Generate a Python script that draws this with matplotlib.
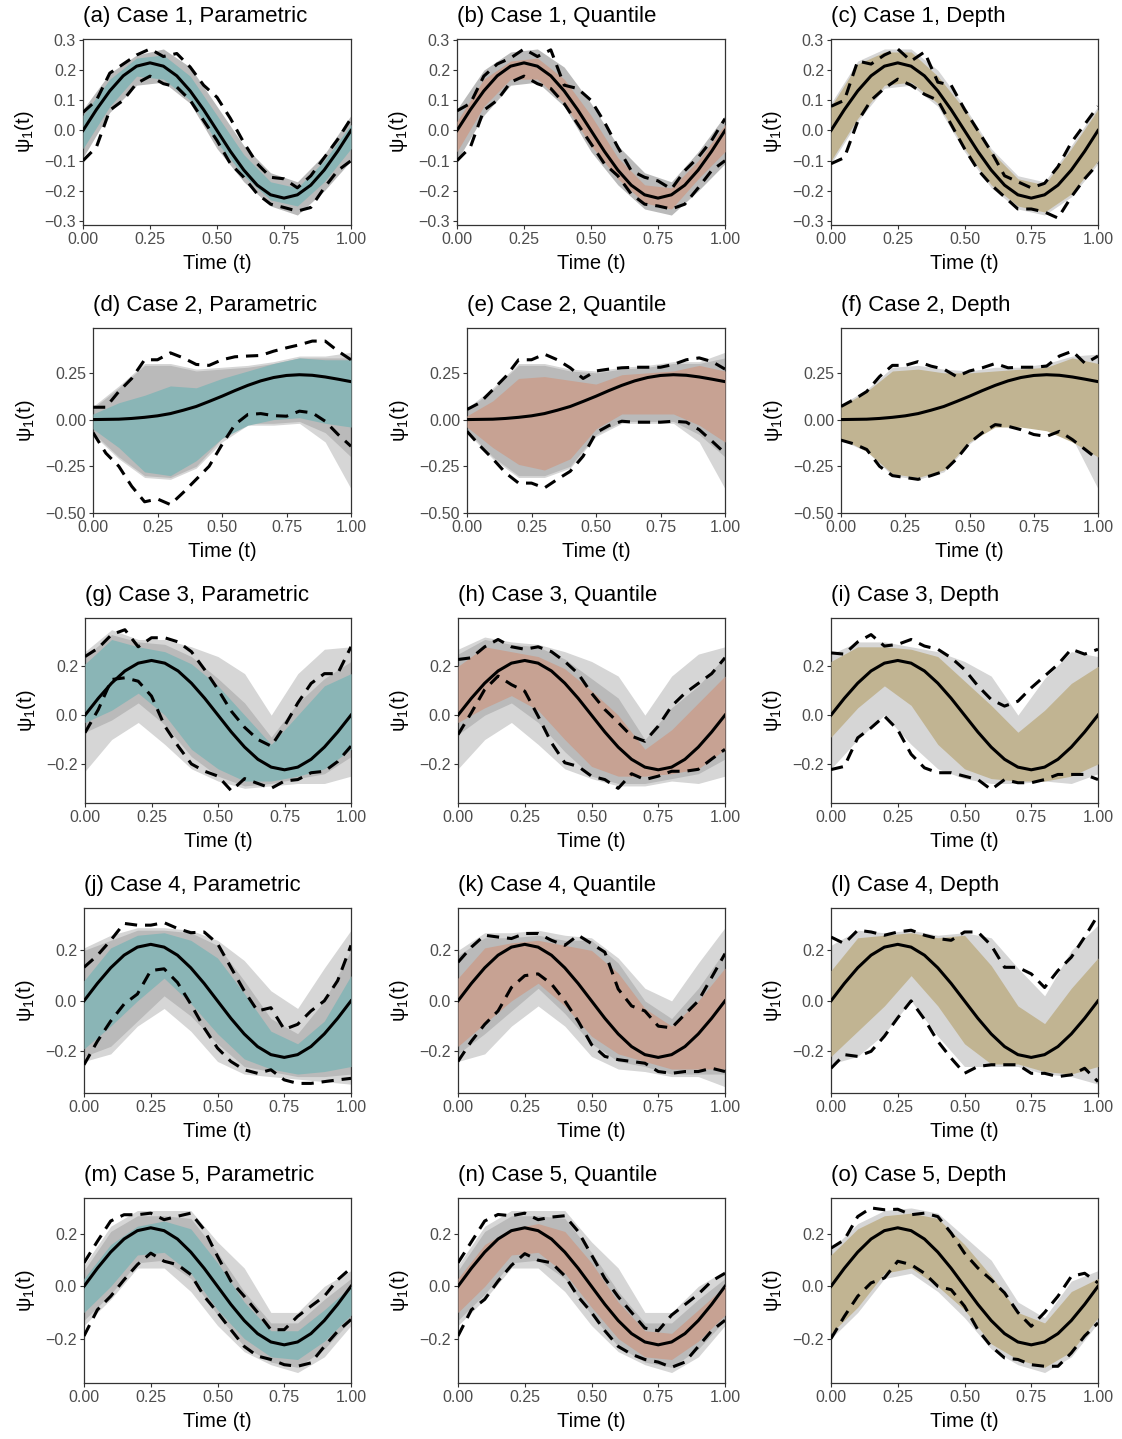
import matplotlib
matplotlib.use("Agg")
import matplotlib.pyplot as plt

plt.rcParams["font.family"] = ["Liberation Sans", "DejaVu Sans"]
plt.rcParams["mathtext.fontset"] = "custom"
plt.rcParams["mathtext.rm"] = "Liberation Sans"
plt.rcParams["mathtext.it"] = "Liberation Sans"

# time grids
T21 = [0.00, 0.05, 0.10, 0.15, 0.20, 0.25, 0.30, 0.35, 0.40, 0.45, 0.50,
       0.55, 0.60, 0.65, 0.70, 0.75, 0.80, 0.85, 0.90, 0.95, 1.00]
T11 = [0.0, 0.1, 0.2, 0.3, 0.4, 0.5, 0.6, 0.7, 0.8, 0.9, 1.0]

# true eigenfunctions (read at T21)
TRUE_SINE = [0.000, 0.069, 0.131, 0.181, 0.213, 0.224, 0.213, 0.181, 0.131, 0.069, 0.000,
             -0.069, -0.131, -0.181, -0.213, -0.224, -0.213, -0.181, -0.131, -0.069, 0.000]
TRUE_CASE2 = [0.000, 0.001, 0.002, 0.006, 0.012, 0.020, 0.032, 0.050, 0.070, 0.097, 0.125,
              0.155, 0.183, 0.207, 0.225, 0.236, 0.240, 0.237, 0.228, 0.216, 0.203]

CASES = [1, 2, 3, 4, 5]
METHODS = ["Parametric", "Quantile", "Depth"]
LETTERS = "abcdefghijklmno"

# dashed simultaneous band limits (T21)
DASH_UP = {
    "a": [0.06, 0.10, 0.19, 0.22, 0.25, 0.27, 0.245, 0.255, 0.21, 0.15, 0.11, 0.04, -0.04, -0.11, -0.155, -0.16, -0.19, -0.15, -0.09, -0.03, 0.04],
    "b": [0.065, 0.09, 0.18, 0.22, 0.24, 0.27, 0.245, 0.267, 0.15, 0.139, 0.10, 0.028, -0.055, -0.133, -0.155, -0.167, -0.194, -0.133, -0.089, -0.033, 0.039],
    "c": [0.08, 0.10, 0.23, 0.22, 0.25, 0.27, 0.23, 0.26, 0.16, 0.15, 0.07, 0.0, -0.07, -0.15, -0.17, -0.19, -0.175, -0.12, -0.04, 0.02, 0.08],
    "d": [0.066, 0.066, 0.15, 0.22, 0.32, 0.32, 0.357, 0.33, 0.295, 0.29, 0.32, 0.336, 0.34, 0.343, 0.366, 0.384, 0.40, 0.42, 0.42, 0.366, 0.32],
    "e": [0.054, 0.09, 0.16, 0.23, 0.32, 0.32, 0.35, 0.32, 0.277, 0.22, 0.26, 0.27, 0.277, 0.28, 0.28, 0.28, 0.295, 0.32, 0.33, 0.31, 0.27],
    "f": [0.07, 0.107, 0.15, 0.23, 0.29, 0.29, 0.31, 0.286, 0.27, 0.23, 0.26, 0.277, 0.30, 0.277, 0.28, 0.28, 0.286, 0.34, 0.366, 0.30, 0.34],
    "g": [0.24, 0.275, 0.33, 0.35, 0.28, 0.317, 0.317, 0.30, 0.26, 0.186, 0.105, 0.016, -0.05, -0.10, -0.127, -0.045, 0.05, 0.13, 0.17, 0.17, 0.28],
    "h": [0.228, 0.235, 0.28, 0.31, 0.28, 0.27, 0.28, 0.26, 0.22, 0.17, 0.09, 0.023, -0.03, -0.086, -0.107, -0.045, 0.037, 0.09, 0.13, 0.17, 0.235],
    "i": [0.255, 0.25, 0.30, 0.33, 0.283, 0.29, 0.31, 0.283, 0.27, 0.235, 0.187, 0.12, 0.064, 0.037, 0.057, 0.112, 0.16, 0.208, 0.27, 0.25, 0.27],
    "j": [0.133, 0.18, 0.24, 0.307, 0.30, 0.30, 0.31, 0.287, 0.27, 0.273, 0.227, 0.133, 0.04, -0.04, -0.027, -0.113, -0.093, -0.04, 0.0, 0.08, 0.22],
    "k": [0.153, 0.213, 0.26, 0.253, 0.247, 0.267, 0.267, 0.24, 0.22, 0.26, 0.227, 0.193, 0.047, -0.02, -0.04, -0.10, -0.107, -0.053, 0.0, 0.093, 0.187],
    "l": [0.253, 0.227, 0.28, 0.273, 0.26, 0.273, 0.28, 0.26, 0.247, 0.24, 0.273, 0.273, 0.22, 0.133, 0.133, 0.107, 0.053, 0.12, 0.173, 0.253, 0.34],
    "m": [0.09, 0.172, 0.25, 0.274, 0.274, 0.28, 0.255, 0.268, 0.28, 0.217, 0.115, 0.02, -0.038, -0.10, -0.166, -0.166, -0.115, -0.076, -0.038, 0.025, 0.07],
    "n": [0.09, 0.17, 0.25, 0.275, 0.27, 0.28, 0.255, 0.265, 0.27, 0.21, 0.12, 0.03, -0.04, -0.10, -0.16, -0.17, -0.11, -0.07, -0.03, 0.02, 0.05],
    "o": [0.146, 0.178, 0.267, 0.30, 0.293, 0.295, 0.274, 0.28, 0.267, 0.204, 0.127, 0.07, 0.025, -0.025, -0.10, -0.153, -0.10, -0.038, 0.038, 0.05, 0.013],
}
DASH_LO = {
    "a": [-0.10, -0.055, 0.067, 0.10, 0.156, 0.18, 0.155, 0.144, 0.10, 0.033, -0.033, -0.11, -0.155, -0.21, -0.244, -0.255, -0.267, -0.255, -0.19, -0.133, -0.10],
    "b": [-0.10, -0.055, 0.067, 0.10, 0.16, 0.18, 0.155, 0.139, 0.089, 0.022, -0.044, -0.11, -0.15, -0.21, -0.244, -0.25, -0.26, -0.244, -0.19, -0.133, -0.10],
    "c": [-0.11, -0.09, 0.03, 0.10, 0.14, 0.17, 0.15, 0.12, 0.10, 0.02, -0.06, -0.13, -0.18, -0.22, -0.26, -0.26, -0.27, -0.29, -0.22, -0.16, -0.11],
    "d": [-0.07, -0.18, -0.25, -0.357, -0.44, -0.425, -0.455, -0.39, -0.32, -0.25, -0.134, -0.027, 0.027, 0.032, 0.021, 0.018, 0.045, 0.036, -0.009, -0.08, -0.143],
    "e": [-0.063, -0.14, -0.21, -0.286, -0.34, -0.34, -0.366, -0.32, -0.277, -0.196, -0.07, -0.032, -0.009, -0.014, -0.014, -0.014, -0.009, -0.014, -0.054, -0.116, -0.18],
    "f": [-0.11, -0.13, -0.16, -0.25, -0.30, -0.31, -0.32, -0.30, -0.277, -0.21, -0.125, -0.07, -0.027, -0.036, -0.054, -0.08, -0.09, -0.063, -0.107, -0.16, -0.214],
    "g": [-0.072, 0.023, 0.146, 0.153, 0.139, 0.078, -0.045, -0.127, -0.20, -0.23, -0.25, -0.31, -0.26, -0.28, -0.30, -0.27, -0.264, -0.236, -0.23, -0.19, -0.127],
    "h": [-0.08, 0.01, 0.105, 0.16, 0.125, 0.098, -0.004, -0.113, -0.195, -0.21, -0.25, -0.264, -0.30, -0.24, -0.264, -0.25, -0.23, -0.23, -0.222, -0.18, -0.14],
    "i": [-0.223, -0.21, -0.093, -0.052, -0.004, -0.06, -0.16, -0.216, -0.236, -0.236, -0.25, -0.264, -0.305, -0.264, -0.277, -0.277, -0.264, -0.243, -0.243, -0.243, -0.264],
    "j": [-0.253, -0.16, -0.08, -0.013, 0.027, 0.12, 0.127, 0.073, -0.013, -0.107, -0.187, -0.24, -0.273, -0.287, -0.273, -0.313, -0.327, -0.327, -0.32, -0.313, -0.307],
    "k": [-0.24, -0.16, -0.093, -0.04, 0.053, 0.10, 0.107, 0.067, 0.0, -0.08, -0.173, -0.22, -0.233, -0.24, -0.247, -0.28, -0.287, -0.28, -0.28, -0.267, -0.28],
    "l": [-0.267, -0.213, -0.22, -0.20, -0.14, -0.067, 0.0, -0.073, -0.16, -0.227, -0.287, -0.26, -0.253, -0.253, -0.253, -0.287, -0.287, -0.30, -0.293, -0.267, -0.32],
    "m": [-0.19, -0.09, -0.038, 0.025, 0.083, 0.127, 0.096, 0.083, 0.045, -0.038, -0.10, -0.166, -0.23, -0.267, -0.28, -0.30, -0.306, -0.293, -0.23, -0.172, -0.127],
    "n": [-0.19, -0.09, -0.05, 0.02, 0.08, 0.125, 0.10, 0.09, 0.04, -0.04, -0.10, -0.17, -0.23, -0.26, -0.28, -0.29, -0.31, -0.29, -0.23, -0.17, -0.13],
    "o": [-0.20, -0.115, -0.038, 0.013, 0.032, 0.096, 0.083, 0.05, 0.0, -0.013, -0.076, -0.166, -0.23, -0.274, -0.28, -0.30, -0.306, -0.306, -0.255, -0.19, -0.14],
}

# coloured pointwise band (T11)
BAND_UP = {
    "a": [0.05, 0.17, 0.24, 0.25, 0.18, 0.05, -0.08, -0.17, -0.19, -0.10, 0.02],
    "b": [0.03, 0.17, 0.23, 0.24, 0.17, 0.05, -0.09, -0.18, -0.19, -0.10, 0.02],
    "c": [0.08, 0.22, 0.26, 0.26, 0.18, 0.07, -0.07, -0.16, -0.18, -0.06, 0.07],
    "d": [0.03, 0.09, 0.13, 0.18, 0.17, 0.22, 0.26, 0.30, 0.33, 0.32, 0.32],
    "e": [0.02, 0.10, 0.22, 0.23, 0.21, 0.19, 0.24, 0.25, 0.26, 0.29, 0.26],
    "f": [0.07, 0.15, 0.26, 0.27, 0.25, 0.25, 0.26, 0.27, 0.28, 0.33, 0.30],
    "g": [0.21, 0.31, 0.28, 0.26, 0.21, 0.12, 0.0, -0.12, 0.0, 0.12, 0.17],
    "h": [0.20, 0.28, 0.26, 0.24, 0.19, 0.10, 0.0, -0.14, -0.06, 0.05, 0.16],
    "i": [0.22, 0.28, 0.28, 0.27, 0.24, 0.14, 0.04, -0.07, 0.02, 0.13, 0.20],
    "j": [0.08, 0.21, 0.26, 0.27, 0.24, 0.17, 0.03, -0.12, -0.17, -0.08, 0.10],
    "k": [0.09, 0.21, 0.23, 0.24, 0.22, 0.20, 0.11, -0.03, -0.10, 0.0, 0.13],
    "l": [0.12, 0.25, 0.26, 0.27, 0.25, 0.26, 0.14, -0.02, -0.09, 0.05, 0.17],
    "m": [0.03, 0.16, 0.23, 0.25, 0.22, 0.09, -0.06, -0.17, -0.17, -0.09, 0.0],
    "n": [0.03, 0.16, 0.22, 0.24, 0.21, 0.09, -0.06, -0.17, -0.18, -0.09, 0.0],
    "o": [0.12, 0.22, 0.27, 0.28, 0.26, 0.16, 0.04, -0.10, -0.14, -0.02, 0.03],
}
BAND_LO = {
    "a": [-0.06, 0.08, 0.18, 0.17, 0.10, -0.04, -0.15, -0.23, -0.25, -0.17, -0.06],
    "b": [-0.07, 0.08, 0.17, 0.17, 0.09, -0.05, -0.16, -0.24, -0.26, -0.16, -0.07],
    "c": [-0.10, 0.04, 0.15, 0.16, 0.09, -0.06, -0.18, -0.25, -0.27, -0.21, -0.10],
    "d": [-0.05, -0.15, -0.28, -0.30, -0.22, -0.10, -0.03, 0.0, 0.01, -0.02, -0.04],
    "e": [-0.04, -0.15, -0.24, -0.27, -0.21, -0.05, 0.03, 0.03, 0.03, -0.03, -0.12],
    "f": [-0.10, -0.17, -0.29, -0.31, -0.27, -0.12, -0.04, -0.04, -0.06, -0.12, -0.20],
    "g": [-0.03, 0.02, 0.09, 0.0, -0.14, -0.22, -0.27, -0.27, -0.25, -0.22, -0.14],
    "h": [-0.03, 0.03, 0.08, 0.02, -0.10, -0.21, -0.25, -0.25, -0.24, -0.22, -0.14],
    "i": [-0.09, 0.03, 0.12, 0.04, -0.12, -0.22, -0.26, -0.27, -0.27, -0.25, -0.20],
    "j": [-0.19, -0.10, 0.0, 0.09, -0.01, -0.13, -0.23, -0.27, -0.29, -0.28, -0.26],
    "k": [-0.18, -0.09, 0.0, 0.07, -0.02, -0.14, -0.21, -0.24, -0.27, -0.27, -0.27],
    "l": [-0.22, -0.12, -0.02, 0.10, -0.02, -0.17, -0.25, -0.25, -0.28, -0.29, -0.26],
    "m": [-0.10, 0.0, 0.12, 0.13, 0.05, -0.09, -0.20, -0.27, -0.28, -0.21, -0.11],
    "n": [-0.10, 0.0, 0.12, 0.13, 0.05, -0.08, -0.20, -0.27, -0.28, -0.21, -0.11],
    "o": [-0.18, -0.08, 0.05, 0.07, 0.0, -0.09, -0.22, -0.28, -0.31, -0.25, -0.12],
}

# dense grey bootstrap curves (T11), None where fully covered by the band
GRAY_UP = {
    "a": [0.07, 0.19, 0.25, 0.27, 0.21, 0.08, -0.05, -0.14, -0.17, -0.08, 0.05],
    "b": [0.07, 0.20, 0.26, 0.27, 0.21, 0.09, -0.05, -0.14, -0.17, -0.07, 0.05],
    "c": None,
    "d": [0.06, 0.17, 0.29, 0.29, 0.26, 0.27, 0.28, 0.30, 0.33, 0.33, 0.33],
    "e": [0.05, 0.16, 0.29, 0.29, 0.26, 0.25, 0.27, 0.28, 0.30, 0.30, 0.33],
    "f": None,
    "g": [0.24, 0.33, 0.30, 0.29, 0.24, 0.15, 0.05, -0.09, 0.05, 0.15, 0.22],
    "h": [0.25, 0.31, 0.29, 0.28, 0.23, 0.15, 0.07, -0.10, 0.03, 0.12, 0.24],
    "i": None,
    "j": [0.20, 0.24, 0.28, 0.28, 0.27, 0.22, 0.08, -0.07, -0.13, 0.0, 0.20],
    "k": [0.18, 0.25, 0.25, 0.26, 0.24, 0.24, 0.15, 0.0, -0.07, 0.05, 0.20],
    "l": None,
    "m": [0.06, 0.21, 0.27, 0.27, 0.26, 0.13, -0.02, -0.14, -0.14, -0.05, 0.03],
    "n": [0.06, 0.21, 0.27, 0.27, 0.26, 0.13, -0.02, -0.14, -0.14, -0.05, 0.03],
    "o": None,
}
GRAY_LO = {
    "a": [-0.09, 0.06, 0.15, 0.16, 0.09, -0.06, -0.17, -0.25, -0.28, -0.20, -0.10],
    "b": [-0.10, 0.05, 0.15, 0.16, 0.08, -0.07, -0.18, -0.26, -0.28, -0.20, -0.11],
    "c": None,
    "d": [-0.07, -0.20, -0.30, -0.31, -0.25, -0.10, -0.02, -0.02, -0.01, -0.07, -0.20],
    "e": [-0.06, -0.20, -0.30, -0.30, -0.25, -0.08, -0.01, -0.01, -0.01, -0.08, -0.20],
    "f": None,
    "g": [-0.07, -0.02, 0.05, -0.04, -0.17, -0.25, -0.29, -0.28, -0.26, -0.24, -0.17],
    "h": [-0.08, 0.0, 0.05, -0.03, -0.15, -0.25, -0.28, -0.28, -0.26, -0.24, -0.18],
    "i": None,
    "j": [-0.22, -0.18, -0.08, 0.02, -0.06, -0.17, -0.26, -0.28, -0.30, -0.30, -0.29],
    "k": [-0.21, -0.13, -0.04, 0.05, -0.05, -0.17, -0.24, -0.26, -0.29, -0.29, -0.29],
    "l": None,
    "m": [-0.13, -0.03, 0.09, 0.10, 0.03, -0.11, -0.23, -0.29, -0.31, -0.24, -0.13],
    "n": [-0.13, -0.03, 0.09, 0.10, 0.03, -0.11, -0.23, -0.29, -0.31, -0.24, -0.13],
    "o": None,
}

# outer light grey curves (T11), None where not visible
HAZE_UP = {
    "a": None,
    "b": None,
    "c": [0.09, 0.23, 0.27, 0.27, 0.20, 0.08, -0.06, -0.15, -0.17, -0.05, 0.08],
    "d": [0.07, 0.18, 0.30, 0.30, 0.27, 0.28, 0.29, 0.31, 0.34, 0.34, 0.36],
    "e": [0.06, 0.17, 0.30, 0.30, 0.27, 0.26, 0.28, 0.29, 0.31, 0.31, 0.36],
    "f": [0.08, 0.16, 0.28, 0.29, 0.27, 0.26, 0.28, 0.28, 0.30, 0.34, 0.35],
    "g": [0.26, 0.35, 0.31, 0.31, 0.28, 0.24, 0.17, 0.0, 0.17, 0.27, 0.28],
    "h": [0.27, 0.32, 0.30, 0.29, 0.26, 0.22, 0.16, 0.0, 0.16, 0.25, 0.28],
    "i": [0.25, 0.30, 0.30, 0.28, 0.26, 0.22, 0.16, 0.0, 0.15, 0.26, 0.24],
    "j": [0.21, 0.26, 0.29, 0.29, 0.28, 0.24, 0.16, 0.04, -0.03, 0.13, 0.28],
    "k": [0.20, 0.27, 0.27, 0.28, 0.26, 0.25, 0.17, 0.05, 0.0, 0.15, 0.29],
    "l": [0.22, 0.28, 0.27, 0.28, 0.26, 0.27, 0.25, 0.13, 0.02, 0.20, 0.30],
    "m": [0.08, 0.23, 0.29, 0.29, 0.29, 0.17, 0.07, -0.10, -0.10, 0.0, 0.06],
    "n": [0.08, 0.23, 0.29, 0.29, 0.29, 0.17, 0.07, -0.10, -0.10, 0.0, 0.06],
    "o": [0.14, 0.24, 0.29, 0.30, 0.28, 0.19, 0.10, -0.06, -0.12, 0.02, 0.06],
}
HAZE_LO = {
    "a": None,
    "b": None,
    "c": [-0.11, 0.03, 0.14, 0.15, 0.08, -0.07, -0.19, -0.26, -0.28, -0.22, -0.11],
    "d": [-0.08, -0.21, -0.31, -0.32, -0.26, -0.12, -0.03, -0.03, -0.02, -0.12, -0.37],
    "e": [-0.07, -0.21, -0.31, -0.31, -0.26, -0.09, -0.02, -0.02, -0.02, -0.12, -0.37],
    "f": [-0.11, -0.17, -0.30, -0.32, -0.28, -0.13, -0.02, -0.02, -0.03, -0.10, -0.37],
    "g": [-0.23, -0.10, -0.03, -0.12, -0.22, -0.27, -0.30, -0.29, -0.28, -0.28, -0.25],
    "h": [-0.22, -0.10, -0.03, -0.12, -0.22, -0.26, -0.29, -0.29, -0.27, -0.28, -0.25],
    "i": [-0.22, -0.10, 0.0, -0.12, -0.22, -0.26, -0.28, -0.28, -0.27, -0.28, -0.24],
    "j": [-0.24, -0.21, -0.10, -0.03, -0.12, -0.24, -0.29, -0.30, -0.31, -0.32, -0.33],
    "k": [-0.24, -0.21, -0.10, -0.02, -0.10, -0.22, -0.27, -0.28, -0.30, -0.30, -0.34],
    "l": [-0.25, -0.22, -0.13, 0.0, -0.14, -0.26, -0.26, -0.26, -0.29, -0.30, -0.33],
    "m": [-0.15, -0.05, 0.07, 0.07, -0.02, -0.15, -0.25, -0.30, -0.33, -0.27, -0.15],
    "n": [-0.15, -0.05, 0.07, 0.07, -0.02, -0.15, -0.25, -0.30, -0.33, -0.27, -0.15],
    "o": [-0.20, -0.10, 0.03, 0.05, -0.02, -0.12, -0.24, -0.30, -0.33, -0.27, -0.14],
}

X_TICKS = [0.0, 0.25, 0.5, 0.75, 1.0]
X_TICK_LABELS = ["0.00", "0.25", "0.50", "0.75", "1.00"]
Y_TICKS = [
    [-0.3, -0.2, -0.1, 0.0, 0.1, 0.2, 0.3],
    [-0.5, -0.25, 0.0, 0.25],
    [-0.2, 0.0, 0.2],
    [-0.2, 0.0, 0.2],
    [-0.2, 0.0, 0.2],
]
Y_TICK_LABELS = [
    ["\u22120.3", "\u22120.2", "\u22120.1", "0.0", "0.1", "0.2", "0.3"],
    ["\u22120.50", "\u22120.25", "0.00", "0.25"],
    ["\u22120.2", "0.0", "0.2"],
    ["\u22120.2", "0.0", "0.2"],
    ["\u22120.2", "0.0", "0.2"],
]
Y_LIMS = [(-0.313, 0.303), (-0.50, 0.49), (-0.36, 0.398), (-0.365, 0.368), (-0.37, 0.338)]

# layout in pixels
W, H = 1122, 1439
LEFT_PX = [[83, 457, 831], [93, 467, 841], [85, 458, 831], [84, 458, 831], [84, 458, 831]]
RIGHT_PX = [351, 725, 1098]
TOP_PX = [39, 328, 618, 908, 1198]
BOTTOM_PX = [225, 513, 803, 1093, 1383]

FILL_COLORS = {"Parametric": "#8ab5b6", "Quantile": "#c7a293", "Depth": "#c1b492"}
GRAY_COLOR = "#bababa"
HAZE_COLOR = "#d6d6d6"

fig = plt.figure(figsize=(W / 100, H / 100), dpi=100)

for idx, key in enumerate(LETTERS):
    row, col = divmod(idx, 3)
    case = CASES[row]
    method = METHODS[col]
    left, right = LEFT_PX[row][col], RIGHT_PX[col]
    top, bottom = TOP_PX[row], BOTTOM_PX[row]
    ax = fig.add_axes([left / W, 1 - bottom / H, (right - left) / W, (bottom - top) / H])

    if HAZE_UP[key] is not None:
        ax.fill_between(T11, HAZE_LO[key], HAZE_UP[key], color=HAZE_COLOR, lw=0, zorder=1)
    if GRAY_UP[key] is not None:
        ax.fill_between(T11, GRAY_LO[key], GRAY_UP[key], color=GRAY_COLOR, lw=0, zorder=2)
    ax.fill_between(T11, BAND_LO[key], BAND_UP[key], color=FILL_COLORS[method], lw=0, zorder=3)

    for bound in (DASH_UP[key], DASH_LO[key]):
        ax.plot(T21, bound, color="black", lw=2.2, ls=(0, (4, 2.6)),
                dash_capstyle="butt", zorder=4)
    truth = TRUE_CASE2 if case == 2 else TRUE_SINE
    ax.plot(T21, truth, color="black", lw=2.2, zorder=5)

    ax.set_xlim(0, 1)
    ax.set_ylim(*Y_LIMS[row])
    ax.set_xticks(X_TICKS, X_TICK_LABELS)
    ax.set_yticks(Y_TICKS[row], Y_TICK_LABELS[row])
    ax.tick_params(direction="out", length=3, width=0.8, color="#333333",
                   labelcolor="#4d4d4d", labelsize=11.5, pad=2)
    for spine in ax.spines.values():
        spine.set_color("#333333")
        spine.set_linewidth(0.9)
    ax.set_xlabel("Time (t)", fontsize=14.5, labelpad=5)
    ax.set_ylabel(r"$\psi_1$(t)", fontsize=14.5, labelpad=6)
    ax.set_title(f"({key}) Case {case}, {method}", loc="left", fontsize=16, pad=12)

fig.savefig("out.png", dpi=100)
